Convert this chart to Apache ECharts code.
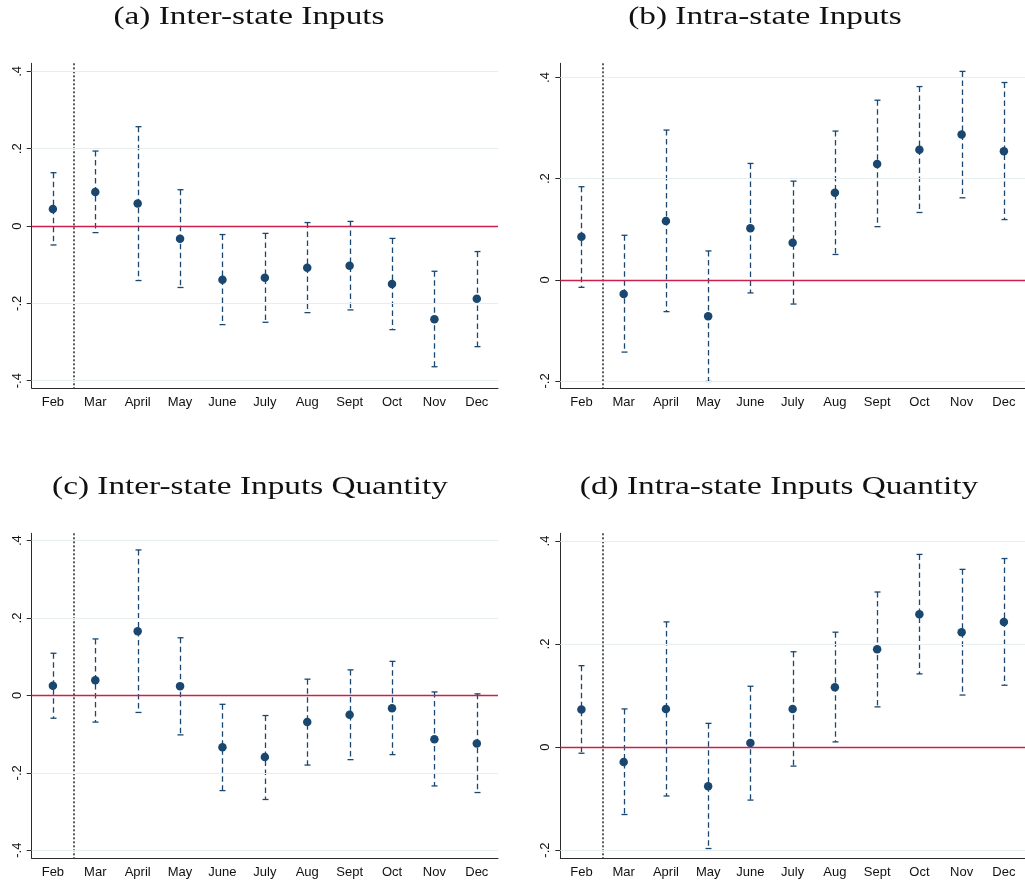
<!DOCTYPE html>
<html>
<head>
<meta charset="utf-8">
<script src="https://cdn.jsdelivr.net/npm/echarts@6/dist/echarts.min.js"></script>
<style>
  html, body { margin: 0; padding: 0; background: #fff; }
  #chart { width: 1025px; height: 884px; }
</style>
</head>
<body>
<div id="chart"></div>
<script>
// Monthly event-study coefficients with 95% confidence intervals
const months = ['Feb', 'Mar', 'April', 'May', 'June', 'July', 'Aug', 'Sept', 'Oct', 'Nov', 'Dec'];

// (a) Inter-state inputs
const interEst = [0.044, 0.088, 0.058, -0.033, -0.139, -0.134, -0.108, -0.103, -0.150, -0.241, -0.188];
const interLo  = [-0.049, -0.017, -0.141, -0.159, -0.255, -0.249, -0.224, -0.217, -0.268, -0.364, -0.312];
const interHi  = [0.138, 0.194, 0.257, 0.094, -0.022, -0.019, 0.009, 0.012, -0.032, -0.117, -0.066];

// (b) Intra-state inputs
const intraEst = [0.085, -0.028, 0.116, -0.072, 0.102, 0.073, 0.172, 0.229, 0.257, 0.287, 0.254];
const intraLo  = [-0.015, -0.143, -0.063, -0.201, -0.026, -0.048, 0.050, 0.105, 0.133, 0.162, 0.119];
const intraHi  = [0.184, 0.088, 0.296, 0.057, 0.230, 0.195, 0.294, 0.355, 0.382, 0.412, 0.390];

// (c) Inter-state inputs quantity
const interQEst = [0.025, 0.039, 0.166, 0.024, -0.134, -0.159, -0.069, -0.050, -0.033, -0.113, -0.124];
const interQLo  = [-0.059, -0.069, -0.044, -0.102, -0.246, -0.269, -0.180, -0.166, -0.153, -0.234, -0.251];
const interQHi  = [0.109, 0.146, 0.376, 0.149, -0.023, -0.052, 0.042, 0.066, 0.088, 0.009, 0.004];

// (d) Intra-state inputs quantity
const intraQEst = [0.073, -0.029, 0.074, -0.076, 0.008, 0.074, 0.116, 0.190, 0.258, 0.223, 0.243];
const intraQLo  = [-0.012, -0.131, -0.095, -0.197, -0.103, -0.037, 0.010, 0.078, 0.142, 0.101, 0.120];
const intraQHi  = [0.158, 0.074, 0.243, 0.046, 0.118, 0.185, 0.223, 0.301, 0.374, 0.345, 0.366];

// y-axis tick values
const yTicksWide = [-0.4, -0.2, 0, 0.2, 0.4];
const yTicksNarrow = [-0.2, 0, 0.2, 0.4];

const titles = [
  '(a) Inter-state Inputs',
  '(b) Intra-state Inputs',
  '(c) Inter-state Inputs Quantity',
  '(d) Intra-state Inputs Quantity'
];

const panels = [
  { est: interEst, lo: interLo, hi: interHi, ticks: yTicksWide, min: -0.419, max: 0.421,
    grid: { left: 31.7, top: 63.3, width: 466.3, height: 324.7 }, titleX: 249, titleY: 17 },
  { est: intraEst, lo: intraLo, hi: intraHi, ticks: yTicksNarrow, min: -0.214, max: 0.428,
    grid: { left: 560.3, top: 63.3, width: 466.4, height: 324.7 }, titleX: 765, titleY: 17 },
  { est: interQEst, lo: interQLo, hi: interQHi, ticks: yTicksWide, min: -0.421, max: 0.419,
    grid: { left: 31.7, top: 533.3, width: 466.3, height: 325 }, titleX: 250, titleY: 487 },
  { est: intraQEst, lo: intraQLo, hi: intraQHi, ticks: yTicksNarrow, min: -0.216, max: 0.415,
    grid: { left: 560.3, top: 533.3, width: 466.4, height: 325 }, titleX: 779, titleY: 487 }
];

const NAVY = '#1a476f';
const ZERO_RED = '#c9204c';
const GRID_LINE = '#e6eef0';
const AXIS = '#2b2b2b';
const SANS = '"Liberation Sans", Arial, sans-serif';
const SERIF = '"Liberation Serif", "DejaVu Serif", serif';

function fmtTick(v) {
  if (v === 0) return '0';
  return String(v).replace('0.', '.');
}

const grids = [], xAxes = [], yAxes = [], series = [], graphics = [];

panels.forEach((p, k) => {
  grids.push(Object.assign({ containLabel: false }, p.grid));

  xAxes.push({
    type: 'category', gridIndex: k, data: months, boundaryGap: true,
    axisLine: { onZero: false, lineStyle: { color: AXIS, width: 1 } },
    axisTick: { alignWithLabel: true, length: 5, lineStyle: { color: AXIS } },
    axisLabel: { color: '#111', fontFamily: SANS, fontSize: 13, margin: 8, interval: 0 },
    splitLine: { show: false }
  });

  yAxes.push({
    type: 'value', gridIndex: k, min: p.min, max: p.max,
    axisLine: { show: true, onZero: false, lineStyle: { color: AXIS, width: 1 } },
    axisTick: { show: true, length: 5, customValues: p.ticks, lineStyle: { color: AXIS } },
    axisLabel: { customValues: p.ticks, formatter: fmtTick, rotate: 90, margin: 8,
                 color: '#111', fontFamily: SANS, fontSize: 13 },
    splitLine: { show: false }
  });

  // horizontal reference lines: light gridlines and the red zero line
  const refLines = p.ticks.filter(t => t !== 0).map(t => ({
    yAxis: t, lineStyle: { color: GRID_LINE, width: 1.2, type: 'solid' }
  }));
  refLines.push({ yAxis: 0, lineStyle: { color: ZERO_RED, width: 1.3, type: 'solid' } });

  // vertical dotted separator between Feb and Mar
  series.push({
    type: 'custom', xAxisIndex: k, yAxisIndex: k, silent: true, z: 1,
    data: [[0, 0]],
    renderItem: function (params, api) {
      const cs = params.coordSys;
      const x0 = api.coord([0, 0])[0];
      const x1 = api.coord([1, 0])[0];
      const x = Math.round((x0 + x1) / 2);
      return {
        type: 'line',
        shape: { x1: x, y1: cs.y, x2: x, y2: cs.y + cs.height },
        style: { stroke: '#333333', lineWidth: 1.6, lineDash: [2, 2] }
      };
    },
    markLine: {
      silent: true, symbol: 'none', label: { show: false },
      animation: false, data: refLines
    }
  });

  // confidence interval bars (dashed with caps)
  series.push({
    type: 'custom', xAxisIndex: k, yAxisIndex: k, silent: true, z: 3,
    data: months.map((m, i) => [i, p.lo[i], p.hi[i]]),
    renderItem: function (params, api) {
      const lo = api.coord([api.value(0), api.value(1)]);
      const hi = api.coord([api.value(0), api.value(2)]);
      const x = Math.round(lo[0]) + 0.5;
      const cap = 3;
      const stroke = { stroke: NAVY, lineWidth: 1.3 };
      return {
        type: 'group',
        children: [
          { type: 'line', shape: { x1: x, y1: hi[1], x2: x, y2: lo[1] },
            style: Object.assign({ lineDash: [5.5, 3.5] }, stroke) },
          { type: 'line', shape: { x1: x - cap, y1: hi[1], x2: x + cap, y2: hi[1] }, style: stroke },
          { type: 'line', shape: { x1: x - cap, y1: lo[1], x2: x + cap, y2: lo[1] }, style: stroke }
        ]
      };
    }
  });

  // point estimates
  series.push({
    type: 'scatter', xAxisIndex: k, yAxisIndex: k, z: 4,
    symbol: 'circle', symbolSize: 8.5,
    itemStyle: { color: NAVY, opacity: 1 },
    data: months.map((m, i) => [i, p.est[i]])
  });

  // panel title, widened to the proportions of a Computer Modern heading
  graphics.push({
    type: 'text', x: p.titleX, y: p.titleY, scaleX: 1.28, scaleY: 1,
    style: { text: titles[k], font: '26px ' + SERIF, fill: '#111',
             textAlign: 'center', textVerticalAlign: 'middle' }
  });
});

const chart = echarts.init(document.getElementById('chart'), null, { renderer: 'canvas' });
chart.setOption({
  animation: false,
  backgroundColor: '#ffffff',
  grid: grids,
  xAxis: xAxes,
  yAxis: yAxes,
  series: series,
  graphic: graphics
});
</script>
</body>
</html>
